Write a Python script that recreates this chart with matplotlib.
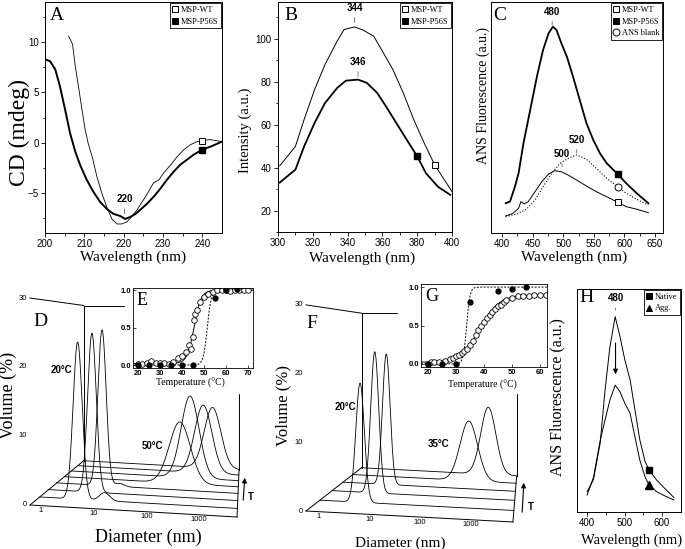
import numpy as np
import matplotlib.pyplot as plt
from matplotlib.lines import Line2D
from matplotlib.patches import Rectangle

plt.rcParams['font.family'] = ['Liberation Sans', 'DejaVu Sans']
SERIF = ['Liberation Serif', 'DejaVu Serif']

# ---------------- data ----------------
# A: CD spectra (mdeg)
cd_wt_nm = [206, 207, 207.7, 208.5, 209.4, 210.2, 211, 212, 213.2, 214.5, 215.7, 217, 218.3, 219.5,
            220.8, 222, 223.4, 224.7, 226, 227.6, 229, 230.2, 232, 233.6, 235.3, 237, 238.7, 240, 242, 245]
cd_wt = [10.6, 9.8, 7.6, 5.6, 3.3, 1.3, -0.1, -1.4, -3.4, -5.1, -6.4, -7.6, -8.1, -8.1,
         -7.9, -7.4, -6.7, -5.9, -5.1, -4.0, -3.7, -3.0, -2.2, -1.4, -0.7, -0.2, 0.1, 0.2, 0.3, 0.1]
cd_mut_nm = [200, 201.3, 202.6, 203.8, 205.1, 206.4, 207.7, 208.9, 210.6, 212.3, 214, 215.7, 217.4,
             219.1, 220.4, 221.7, 223, 224.2, 225.9, 227.6, 229.3, 231, 232.7, 234.4, 236.1, 237.8,
             240, 242.1, 245]
cd_mut = [8.3, 8.1, 7.3, 5.6, 3.3, 0.9, -0.9, -2.2, -3.7, -4.9, -5.9, -6.6, -7.1,
          -7.3, -7.6, -7.4, -7.1, -6.7, -6.1, -5.4, -4.6, -3.7, -2.9, -2.2, -1.7, -1.2,
          -0.7, -0.4, 0.1]

# B: intrinsic fluorescence
fl_wt_nm = [301, 310, 315, 321, 327, 334, 338, 344, 349, 355, 360, 366, 372, 378, 384, 390, 400]
fl_wt = [40.8, 49.8, 62.3, 76.2, 87.9, 98.8, 104.2, 105.4, 103.9, 101.1, 94.1, 85.6, 74.7, 62.3,
         51.4, 41.3, 28.8]
fl_mut_nm = [301, 310, 315, 321, 327, 334, 339, 346, 351, 357, 362, 368, 374, 380, 385, 392, 399]
fl_mut = [33.0, 39.0, 49.8, 60.7, 70.0, 77.0, 80.4, 80.9, 79.4, 74.7, 68.5, 60.7, 52.9, 45.2,
          37.4, 31.0, 27.3]

# C: ANS fluorescence
c_mut_nm = [406, 413, 421, 427, 435, 446, 457, 467, 476, 483, 489, 497, 506, 516, 527, 538,
            549, 560, 571, 582, 589, 603, 620, 639]
c_mut = [12.9, 13.6, 20.0, 25.8, 38.8, 53.2, 67.7, 79.2, 86.4, 89.3, 87.9, 82.1, 76.3, 67.7,
         57.6, 47.5, 40.3, 34.5, 30.2, 27.3, 25.5, 21.5, 17.2, 12.9]
c_wt_nm = [406, 418, 427, 431, 436, 443, 454, 465, 476, 486, 497, 508, 522, 538, 554, 571, 589,
           603, 620, 639]
c_wt = [7.4, 8.5, 10.7, 13.6, 12.6, 13.6, 17.9, 22.2, 25.5, 27.0, 26.5, 25.1, 22.9, 20.3, 17.9,
        15.7, 13.3, 11.4, 10.3, 8.8]
c_ans_nm = [406, 424, 440, 454, 467, 481, 495, 508, 522, 538, 554, 571, 589, 603, 620, 639]
c_ans = [7.1, 8.2, 10.3, 14.3, 20.0, 25.8, 30.2, 32.3, 33.8, 31.9, 28.0, 23.7, 20.0, 17.2,
         14.6, 12.1]

# D / F: DLS size distributions (peak diameter nm, volume %, log-width)
D_nm = [3.5, 4.9, 5.9, 250, 380, 710, 1120]
D_vol = [23.6, 24.9, 25.4, 10.2, 14.1, 12.1, 11.2]
D_sd = [0.09, 0.09, 0.09, 0.24, 0.21, 0.21, 0.21]
D_sh_nm = [12, 14, 14, 30, 30, 30, 30]
D_sh_vol = [1.2, 0.0, 0.5, 0.0, 0.0, 0.0, 0.0]

F_nm = [3.9, 5.0, 5.9, 450, 1230]
F_vol = [18.3, 23.0, 22.5, 10.6, 12.5]
F_sd = [0.09, 0.09, 0.09, 0.22, 0.2]
F_sh_nm = [14, 14, 14, 30, 30]
F_sh_vol = [0.0, 0.0, 0.0, 0.0, 0.0]

diam_ticks = [1, 10, 100, 1000]
vol_ticks = [0, 10, 20, 30]

# E / G: aggregation vs temperature
E_open_T = [20, 22, 24, 26, 28, 30, 32, 34, 36, 38, 40, 42, 43, 44, 45, 45.5, 46, 47, 48, 50,
            52, 54, 56, 58, 60, 62, 64, 66, 68, 70]
E_open = [0.02, 0.02, 0.03, 0.05, 0.03, 0.03, 0.03, 0.02, 0.04, 0.09, 0.12, 0.17, 0.27, 0.21,
          0.38, 0.6, 0.68, 0.74, 0.84, 0.91, 0.95, 0.98, 1.0, 1.0, 1.0, 0.99, 1.0, 1.0, 1.0, 1.0]
E_fill_T = [20, 25, 30, 35, 40, 45, 55, 60, 65]
E_fill = [0.0, 0.0, 0.0, 0.0, 0.0, 0.0, 0.9, 1.0, 1.02]
E_fit_open = (0.02, 1.0, 45.5, 1.6)     # bottom, top, Tm, dT
E_fit_fill = (0.0, 1.0, 51.5, 0.9)

G_open_T = [20, 21, 22, 24, 26, 28, 29, 30, 31, 32, 33, 34, 35, 36, 37, 38, 39, 40, 41, 42, 43,
            44, 45, 46, 47, 48, 50, 52, 54, 56, 58, 60, 62]
G_open = [0.0, 0.02, 0.03, 0.03, 0.04, 0.06, 0.08, 0.1, 0.12, 0.14, 0.17, 0.2, 0.25, 0.3, 0.37,
          0.44, 0.5, 0.55, 0.6, 0.64, 0.68, 0.72, 0.75, 0.77, 0.8, 0.83, 0.86, 0.88, 0.89, 0.89,
          0.9, 0.9, 0.9]
G_fill_T = [20, 25, 30, 35, 45, 50, 55]
G_fill = [0.0, 0.0, 0.0, 0.8, 0.95, 0.97, 1.0]
G_fit_open = (0.02, 0.9, 38.5, 3.5)
G_fit_fill = (0.0, 1.0, 33.8, 0.6)

# H: ANS fluorescence native vs aggregated
h_nm = [400, 417, 435, 448, 461, 475, 488, 501, 515, 528, 541, 555, 566, 586, 608, 632]
h_nat = [9.1, 14.5, 31.0, 54.7, 74.1, 87.6, 78.6, 68.1, 59.2, 45.7, 32.3, 22.6, 18.8, 14.3, 10.5, 6.5]
h_agg = [7.6, 15.5, 32.0, 41.3, 50.2, 56.9, 53.9, 48.7, 44.2, 33.6, 23.2, 15.7, 12.0, 9.1, 7.2, 5.4]

# ---------------- figure ----------------
W, H = 685, 549
fig = plt.figure(figsize=(W / 100, H / 100), dpi=100)


def px_axes(x0, y0, x1, y1):
    return fig.add_axes([x0 / W, 1 - y1 / H, (x1 - x0) / W, (y1 - y0) / H])


def ftext(x, y, s, **kw):
    kw.setdefault('ha', 'center')
    kw.setdefault('va', 'center')
    fig.text(x / W, 1 - y / H, s, **kw)


def style(ax):
    ax.tick_params(which='both', direction='out', labelsize=7, width=0.6)
    ax.tick_params(which='major', length=3, pad=1.5)
    ax.tick_params(which='minor', length=1.8)
    for s in ax.spines.values():
        s.set_linewidth(0.7)


def legend(ax, markers, labels, **kw):
    hs = [Line2D([], [], ls='none', marker=m, mfc=fc, mec='k', ms=5, mew=0.7) for m, fc in markers]
    leg = ax.legend(hs, labels, loc='upper right', prop={'family': SERIF, 'size': 6},
                    fancybox=False, edgecolor='k', framealpha=1, borderpad=0.3,
                    handlelength=0.7, handletextpad=0.3, labelspacing=0.45,
                    borderaxespad=0.15, **kw)
    leg.get_frame().set_linewidth(0.6)


def peak_label(ax, s, x, y, dy=7):
    ax.annotate(s, xy=(x, y), xytext=(0, dy), textcoords='offset points', ha='center',
                va='bottom', fontsize=7, fontweight='bold',
                arrowprops=dict(arrowstyle='-', lw=0.6, color='0.4', shrinkA=1.5, shrinkB=0))


# ---- A ----
axA = px_axes(45, 2, 222, 233)
style(axA)
axA.plot(cd_wt_nm, cd_wt, color='k', lw=0.6, marker='s', mfc='white', mec='k', ms=5, mew=0.7,
         markevery=[cd_wt_nm.index(240)])
axA.plot(cd_mut_nm, cd_mut, color='k', lw=1.4, marker='s', mfc='k', mec='k', ms=5,
         markevery=[cd_mut_nm.index(240)])
axA.set_xlim(200, 245)
axA.set_ylim(-9, 14)
axA.set_xticks([200, 210, 220, 230, 240])
axA.set_xticks(np.arange(205, 245, 10), minor=True)
axA.set_yticks([-5, 0, 5, 10])
axA.set_yticks(np.arange(-7.5, 14, 5), minor=True)
legend(axA, [('s', 'white'), ('s', 'k')], ['MSP-WT', 'MSP-P56S'])
peak_label(axA, '220', 220.2, -7.1, dy=7)
ftext(57, 15, 'A', family=SERIF, fontsize=14)
ftext(19, 132, 'CD (mdeg)', family=SERIF, fontsize=17, rotation=90)
ftext(133, 257, 'Wavelength (nm)', family=SERIF, fontsize=11)

# ---- B ----
axB = px_axes(278, 2, 452, 232)
style(axB)
axB.plot(fl_wt_nm, fl_wt, color='k', lw=0.7, marker='s', mfc='white', mec='k', ms=5, mew=0.7,
         markevery=[fl_wt_nm.index(390)])
axB.plot(fl_mut_nm, fl_mut, color='k', lw=1.3, marker='s', mfc='k', mec='k', ms=5,
         markevery=[fl_mut_nm.index(380)])
axB.set_xlim(300, 400)
axB.set_ylim(10, 117)
axB.set_xticks(np.arange(300, 401, 20))
axB.set_xticks(np.arange(310, 400, 20), minor=True)
axB.set_yticks(np.arange(20, 101, 20))
axB.set_yticks(np.arange(10, 117, 10), minor=True)
legend(axB, [('s', 'white'), ('s', 'k')], ['MSP-WT', 'MSP-P56S'])
peak_label(axB, '344', 344, 107.5, dy=7)
peak_label(axB, '346', 346, 82.3, dy=7)
ftext(291, 15, 'B', family=SERIF, fontsize=14)
ftext(245, 130, 'Intensity (a.u.)', family=SERIF, fontsize=10.5, rotation=90)
ftext(362, 258, 'Wavelength (nm)', family=SERIF, fontsize=11)

# ---- C ----
axC = px_axes(491, 2, 663, 233)
style(axC)
axC.plot(c_mut_nm, c_mut, color='k', lw=1.3, marker='s', mfc='k', mec='k', ms=5,
         markevery=[c_mut_nm.index(589)])
axC.plot(c_ans_nm, c_ans, color='k', lw=0.8, ls=':', marker='o', mfc='white', mec='k', ms=5,
         mew=0.7, markevery=[c_ans_nm.index(589)])
axC.plot(c_wt_nm, c_wt, color='k', lw=0.7, marker='s', mfc='white', mec='k', ms=5, mew=0.7,
         markevery=[c_wt_nm.index(589)])
axC.set_xlim(382, 663)
axC.set_ylim(0, 100)
axC.set_xticks(np.arange(400, 651, 50))
axC.set_xticks(np.arange(425, 651, 50), minor=True)
axC.set_yticks([])
legend(axC, [('s', 'white'), ('s', 'k'), ('o', 'white')], ['MSP-WT', 'MSP-P56S', 'ANS blank'])
peak_label(axC, '480', 482, 90.0, dy=6)
peak_label(axC, '500', 498, 28.6, dy=6)
peak_label(axC, '520', 522, 34.6, dy=6)
ftext(500, 15, 'C', family=SERIF, fontsize=14)
ftext(483, 95, 'ANS Fluorescence (a.u.)', family=SERIF, fontsize=10, rotation=90)
ftext(574, 257, 'Wavelength (nm)', family=SERIF, fontsize=11)


# ---- D / F waterfalls (simple perspective projection) ----
def make_proj(x0, y0, left, dec, vol, skew, vp, back):
    def proj(logd, v, k):
        logd, v, k = np.broadcast_arrays(np.asarray(logd, float), np.asarray(v, float),
                                         np.asarray(k, float))
        X = x0 + dec * logd
        Y = y0 - vol * v + skew * (X - left) * (1 - v / 30.0)
        s = 1.0 / (1.0 + k * (1.0 / back - 1.0))
        return vp[0] + (X - vp[0]) * s, vp[1] + (Y - vp[1]) * s
    return proj


def waterfall(ax, proj, lo, hi, nm, vol, sd, sh_nm, sh_vol):
    logd = np.linspace(lo, hi, 600)
    n = len(nm)
    for i in range(n):
        v = vol[i] * np.exp(-0.5 * ((logd - np.log10(nm[i])) / sd[i]) ** 2)
        v = v + sh_vol[i] * np.exp(-0.5 * ((logd - np.log10(sh_nm[i])) / 0.1) ** 2)
        ax.plot(*proj(logd, v, (i + 1) / n), color='k', lw=0.6)
    kw = dict(color='k', lw=0.7)
    ax.plot(*proj([lo, hi], 0, 0), **kw)
    ax.plot(*proj(lo, 0, [0, 1]), **kw)
    ax.plot(*proj(hi, 0, [0, 1]), **kw)
    ax.plot(*proj(lo, 30, [0, 1]), **kw)
    ax.plot(*proj([lo, lo, hi, hi], [0, 30, 30, 0], 1), **kw)
    for t in diam_ticks:
        X, Y = proj(np.log10(t), 0, 0)
        ax.text(float(X), float(Y) + 1.5, str(t), ha='center', va='top', fontsize=5.5)
    for v in vol_ticks:
        X, Y = proj(lo, v, 0)
        ax.text(float(X) - 3, float(Y), str(v), ha='right', va='center', fontsize=5.5)


def region_axes(x0, y0, x1, y1):
    ax = px_axes(x0, y0, x1, y1)
    ax.set_xlim(x0, x1)
    ax.set_ylim(y1, y0)
    ax.axis('off')
    return ax


axD = region_axes(0, 280, 276, 549)
projD = make_proj(41, 505, 30, 52.7, 6.9, 0.058, (245, 328), 0.75)
waterfall(axD, projD, -0.209, 3.72, D_nm, D_vol, D_sd, D_sh_nm, D_sh_vol)
axD.add_patch(Rectangle((125, 281), 140, 112, color='white', zorder=10))
axD.text(61, 370, '20°C', fontsize=7, fontweight='bold', ha='center', va='center')
axD.text(152, 446, '50°C', fontsize=7, fontweight='bold', ha='center', va='center')
axD.annotate('', xy=(245, 475), xytext=(243, 503),
             arrowprops=dict(arrowstyle='-|>', lw=0.8, color='k', mutation_scale=7))
axD.text(251, 497, 'T', fontsize=7, fontweight='bold', ha='center', va='center')
axD.text(40, 321, 'D', family=SERIF, fontsize=14, ha='center', va='center')
axD.text(8, 395, 'Volume (%)', family=SERIF, fontsize=13, rotation=90, ha='center', va='center')
axD.text(148, 537, 'Diameter (nm)', family=SERIF, fontsize=13, ha='center', va='center')

axF = region_axes(276, 280, 562, 549)
projF = make_proj(319, 511, 306, 50.5, 6.87, 0.053, (528, 338), 0.75)
waterfall(axF, projF, -0.257, 3.84, F_nm, F_vol, F_sd, F_sh_nm, F_sh_vol)
axF.add_patch(Rectangle((398, 281), 160, 112, color='white', zorder=10))
axF.text(345, 407, '20°C', fontsize=7, fontweight='bold', ha='center', va='center')
axF.text(439, 444, '35°C', fontsize=7, fontweight='bold', ha='center', va='center')
axF.annotate('', xy=(524, 480), xytext=(522, 515),
             arrowprops=dict(arrowstyle='-|>', lw=0.8, color='k', mutation_scale=7))
axF.text(531, 507, 'T', fontsize=7, fontweight='bold', ha='center', va='center')
axF.text(312, 323, 'F', family=SERIF, fontsize=14, ha='center', va='center')
axF.text(283, 405, 'Volume (%)', family=SERIF, fontsize=12, rotation=90, ha='center', va='center')
axF.text(400, 543, 'Diameter (nm)', family=SERIF, fontsize=11, ha='center', va='center')


# ---- E / G insets ----
def sigmoid(T, p):
    bot, top, tm, dt = p
    return bot + (top - bot) / (1 + np.exp((tm - T) / dt))


def inset(ax, xlim, ylim, xticks, open_T, open_v, fill_T, fill_v, fit_open, fit_fill, letter):
    T = np.linspace(xlim[0], xlim[1], 300)
    ax.plot(T, sigmoid(T, fit_open), color='k', lw=0.7)
    ax.plot(T, sigmoid(T, fit_fill), color='k', lw=0.7, ls=(0, (2, 1.5)))
    ax.plot(open_T, open_v, ls='none', marker='o', mfc='white', mec='k', ms=4, mew=0.6)
    ax.plot(fill_T, fill_v, ls='none', marker='o', mfc='k', mec='k', ms=3.5)
    ax.set_xlim(*xlim)
    ax.set_ylim(*ylim)
    ax.set_xticks(xticks)
    ax.set_yticks([0, 0.5, 1.0])
    ax.set_yticklabels(['0.0', '0.5', '1.0'])
    ax.tick_params(direction='in', length=2, width=0.5, labelsize=5.5, pad=1.5)
    for lbl in ax.get_xticklabels() + ax.get_yticklabels():
        lbl.set_fontweight('bold')
    for s in ax.spines.values():
        s.set_linewidth(0.6)
    ax.text(0.03, 0.95, letter, transform=ax.transAxes, family=SERIF, fontsize=13,
            ha='left', va='top')


axE = px_axes(133, 288, 253, 368)
inset(axE, (17.7, 72.3), (-0.04, 1.03), np.arange(20, 71, 10), E_open_T, E_open, E_fill_T,
      E_fill, E_fit_open, E_fit_fill, 'E')
ftext(190, 383, 'Temperature (°C)', family=SERIF, fontsize=7)

axG = px_axes(421, 284, 547, 367)
inset(axG, (17.5, 62.5), (-0.04, 1.04), np.arange(20, 61, 10), G_open_T, G_open, G_fill_T,
      G_fill, G_fit_open, G_fit_fill, 'G')
ftext(482, 385, 'Temperature (°C)', family=SERIF, fontsize=7)

# ---- H ----
axH = px_axes(577, 289, 681, 512)
style(axH)
axH.plot(h_nm, h_nat, color='k', lw=0.7, marker='s', mfc='k', mec='k', ms=5,
         markevery=[h_nm.index(566)])
axH.plot(h_nm, h_agg, color='k', lw=0.7, marker='^', mfc='k', mec='k', ms=5.5,
         markevery=[h_nm.index(566)])
axH.set_xlim(373, 651)
axH.set_ylim(0, 100)
axH.set_xticks([400, 500, 600])
axH.set_xticks([450, 550], minor=True)
axH.set_yticks([])
legend(axH, [('s', 'k'), ('^', 'k')], ['Native', 'Agg.'])
peak_label(axH, '480', 476, 90.5, dy=5)
axH.annotate('', xy=(476, 60.5), xytext=(476, 77),
             arrowprops=dict(arrowstyle='-|>', lw=0.8, color='k', mutation_scale=7))
ftext(587, 297, 'H', family=SERIF, fontsize=14)
ftext(557, 397, 'ANS Fluorescence (a.u.)', family=SERIF, fontsize=11.5, rotation=90)
ftext(632, 540, 'Wavelength (nm)', family=SERIF, fontsize=10.5)

fig.savefig('out.png', dpi=100)
